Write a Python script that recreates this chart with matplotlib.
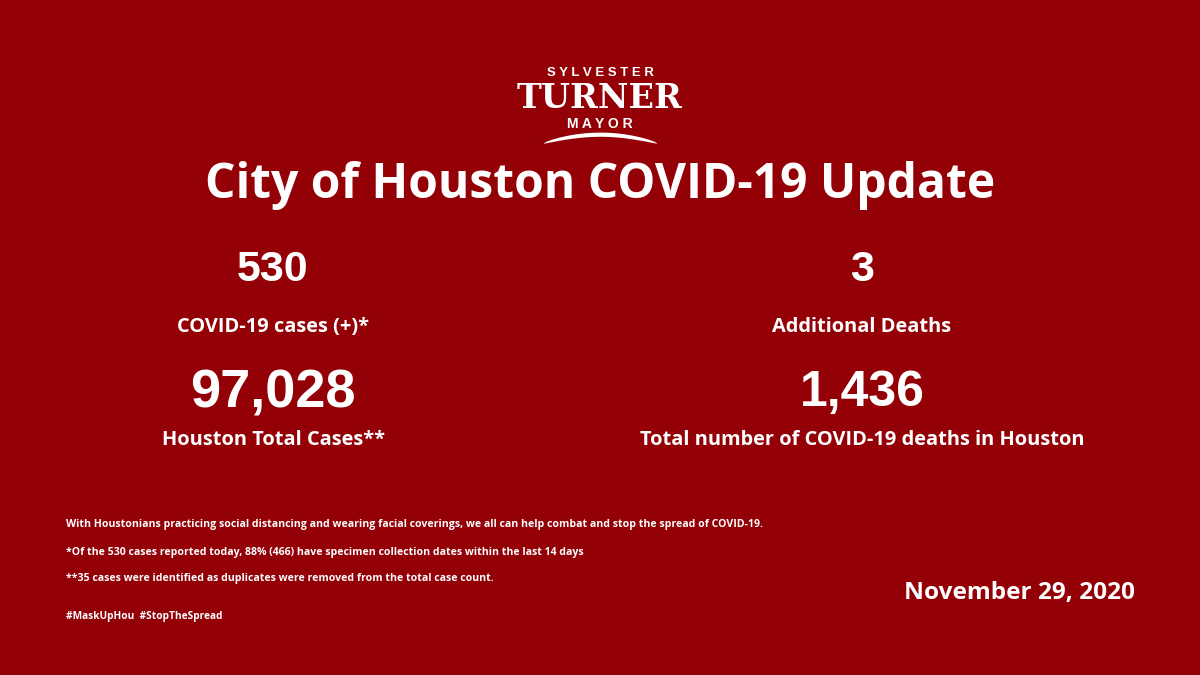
import matplotlib
matplotlib.use("Agg")
import matplotlib.pyplot as plt
import numpy as np

BG = "#930006"
W, H = 1200, 675

stat_values = ["530", "3", "97,028", "1,436"]
stat_labels = ["COVID-19 cases (+)*", "Additional Deaths",
               "Houston Total Cases**", "Total number of COVID-19 deaths in Houston"]
title = "City of Houston COVID-19 Update"
footnotes = [
    "With Houstonians practicing social distancing and wearing facial coverings, we all can help combat and stop the spread of COVID-19.",
    "*Of the 530 cases reported today, 88% (466) have specimen collection dates within the last 14 days",
    "**35 cases were identified as duplicates were removed from the total case count.",
]
hashtags = "#MaskUpHou  #StopTheSpread"
date_text = "November 29, 2020"

fig = plt.figure(figsize=(12, 6.75), dpi=100, facecolor=BG)

def T(x, y, s, size, family="Open Sans", weight="bold", ha="center", **kw):
    fig.text(x / W, 1 - y / H, s, fontsize=size, family=family, weight=weight,
             color="white", ha=ha, va="center", **kw)

# logo
T(600, 73, "S Y L V E S T E R", 9.5, family="Liberation Sans")
T(600, 98, "TURNER", 24, family="DejaVu Serif")
T(600, 124, "M A Y O R", 10, family="Liberation Sans")
ax = fig.add_axes([543 / W, 1 - 144 / H, 114 / W, 14 / H])
ax.set_axis_off(); ax.set_xlim(0, 1); ax.set_ylim(-1, 1)
xx = np.linspace(0, 1, 100)
ax.fill_between(xx, -0.9 + 1.0 * np.sin(np.pi * xx), -0.9 + 1.6 * np.sin(np.pi * xx) ** 0.7,
                color="white", lw=0)

T(600, 186, title, 34.6)

cols = [273, 862]
T(cols[0], 270, stat_values[0], 31, family="Liberation Sans")
T(cols[1], 270, stat_values[1], 31, family="Liberation Sans")
T(cols[0], 327, stat_labels[0], 14.4)
T(cols[1], 327, stat_labels[1], 14.4)
T(cols[0], 393, stat_values[2], 39, family="Liberation Sans")
T(cols[1], 393, stat_values[3], 36, family="Liberation Sans")
T(cols[0], 440, stat_labels[2], 14.4)
T(cols[1], 440, stat_labels[3], 14.4)

for i, s in enumerate(footnotes):
    T(66, 525 + 27 * i, s, 7.6, ha="left")
T(66, 617, hashtags, 7.3, ha="left")
T(1019, 593, date_text, 17.6)

fig.savefig("out.png", dpi=100, facecolor=BG)
